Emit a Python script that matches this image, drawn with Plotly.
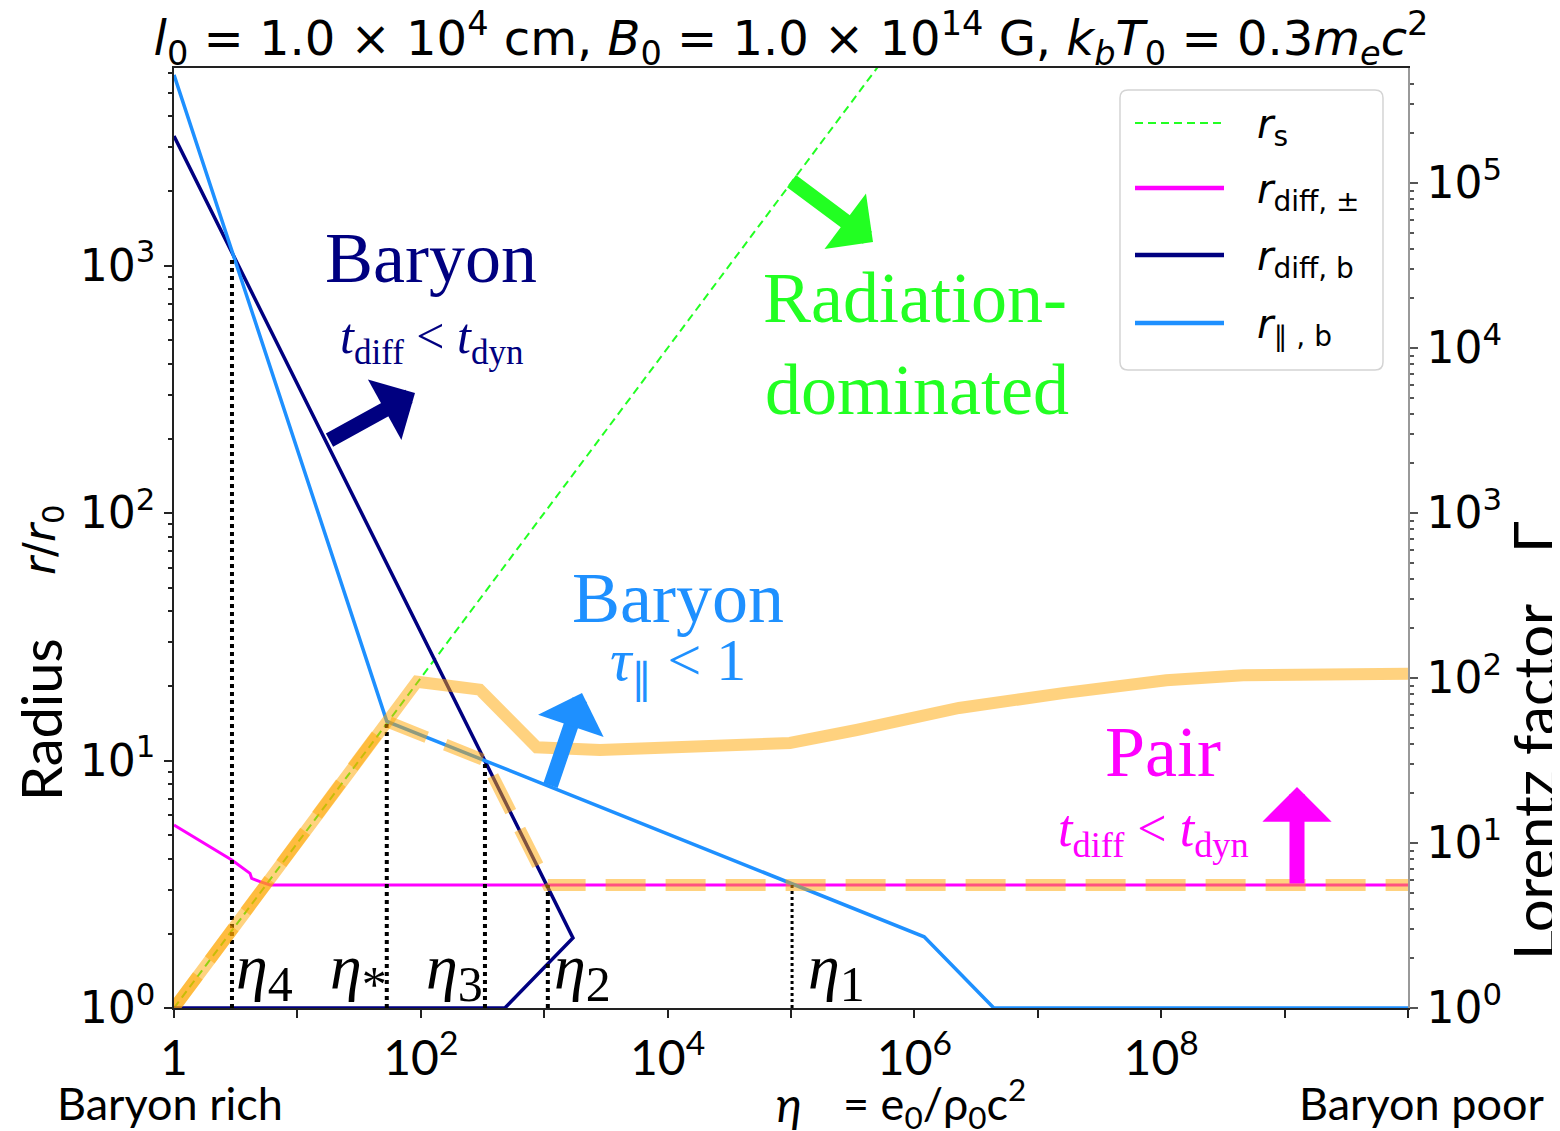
import math
import plotly.graph_objects as go

# ---------------- data ----------------
eta_rs = [1, 1e2, 1e4, 1e6]
r_s = [1, 21.5, 464, 1.0e4]

eta_diff_pm = [1, 2.94, 4.13, 4.26, 4.98, 6.0, 1e10]
r_diff_pm = [5.49, 3.96, 3.50, 3.34, 3.24, 3.14, 3.14]

eta_diff_b = [1, 480, 1710, 1]
r_diff_b = [1, 1, 1.92, 3335]

eta_par_b = [1, 53, 1.2e6, 4.4e6, 1e10]
r_par_b = [5890, 14.4, 1.94, 1, 1]

eta_ph = [1, 53, 331, 1070, 1e10]
r_ph = [1, 14.4, 10, 3.14, 3.14]

eta_gamma = [1, 93, 300, 870, 2830, 1.94e4, 9.8e4, 3.4e5, 2.3e6, 1.6e7, 1.1e8, 4.6e8, 1e10]
gamma = [1, 95, 85, 38, 36.6, 38.7, 40.4, 48.4, 65.8, 81, 97, 104, 106]

eta_marks = [2.95, 53, 331, 1070, 1.02e5]
r_mark_tops = [1082, 14.4, 10, 3.14, 3.14]
mark_names = ["4", "*", "3", "2", "1"]

x_tickvals = [10 ** k for k in range(11)]
x_ticktext = ["1", "", "10<sup>2</sup>", "", "10<sup>4</sup>", "", "10<sup>6</sup>", "",
              "10<sup>8</sup>", "", ""]
y_tickvals = [1, 10, 100, 1000]
y_ticktext = ["10<sup>0</sup>", "10<sup>1</sup>", "10<sup>2</sup>", "10<sup>3</sup>"]
y2_tickvals = [1, 10, 100, 1000, 1e4, 1e5]
y2_ticktext = ["10<sup>0</sup>", "10<sup>1</sup>", "10<sup>2</sup>", "10<sup>3</sup>",
               "10<sup>4</sup>", "10<sup>5</sup>"]

# ---------------- styling ----------------
GREEN = "#22ff22"
MAGENTA = "#ff00ff"
NAVY = "#000080"
BLUE = "#1e90ff"
ORANGE = "rgba(255,165,0,0.5)"

OFF = 8  # page body margin of the html page
SW, SH = 1560, 1131  # screen size
W, H = SW - OFF, SH - OFF
PL, PT, PR, PB = 174, 68, 1408, 1008  # plot area in screen pixels
L, T = PL - OFF, PT - OFF
R, B = SW - PR, SH - PB
PW, PH = PR - PL, PB - PT


def px(x):
    return (x - PL) / PW


def py(y):
    return (PB - y) / PH


fig = go.Figure()

fig.add_trace(go.Scatter(x=eta_rs, y=r_s, mode="lines",
                         line=dict(color=GREEN, width=2, dash="8px,5px"), showlegend=False))
fig.add_trace(go.Scatter(x=eta_diff_pm, y=r_diff_pm, mode="lines",
                         line=dict(color=MAGENTA, width=3), showlegend=False))
fig.add_trace(go.Scatter(x=eta_diff_b, y=r_diff_b, mode="lines",
                         line=dict(color=NAVY, width=3.5), showlegend=False))
fig.add_trace(go.Scatter(x=eta_par_b, y=r_par_b, mode="lines",
                         line=dict(color=BLUE, width=3.5), showlegend=False))

for i, (e, top) in enumerate(zip(eta_marks, r_mark_tops)):
    fig.add_trace(go.Scatter(x=[e, e], y=[1, top], mode="lines",
                             line=dict(color="black", width=4 if i < 4 else 3, dash="dot"),
                             showlegend=False))

fig.add_trace(go.Scatter(x=eta_ph, y=r_ph, mode="lines",
                         line=dict(color=ORANGE, width=12, dash="40px,20px"), showlegend=False))
fig.add_trace(go.Scatter(x=eta_gamma, y=gamma, mode="lines", yaxis="y2",
                         line=dict(color=ORANGE, width=12), showlegend=False))

annotations = []

# eta labels
mark_anchor = [("left", 2), ("right", 4), ("right", 2), ("left", 4), ("left", 14)]
for e, name, (anc, sh) in zip(eta_marks, mark_names, mark_anchor):
    annotations.append(dict(
        x=math.log10(e), y=0, xref="x", yref="y",
        text="<i>η</i><sub><span style='font-size:50px'>%s</span></sub>" % name,
        showarrow=False, xanchor=anc, yanchor="bottom",
        xshift=sh if anc == "left" else sh - 2, yshift=-6,
        font=dict(family="Liberation Serif", size=64, color="black")))

SERIF = "Liberation Serif"


def txt(x, y, text, color, size, family=SERIF, **kw):
    d = dict(x=px(x), y=py(y), xref="paper", yref="paper", text=text, showarrow=False,
             xanchor="center", yanchor="middle", font=dict(family=family, size=size, color=color))
    d.update(kw)
    annotations.append(d)


tdiff = "<i>t</i><sub>diff</sub> &lt; <i>t</i><sub>dyn</sub>"
txt(431, 258, "Baryon", NAVY, 72)
txt(431, 340, tdiff, NAVY, 50)
txt(915, 298, "Radiation-", GREEN, 72)
txt(917, 390, "dominated", GREEN, 72)
txt(678, 598, "Baryon", BLUE, 72)
txt(678, 664, "<i>τ</i><sub>∥</sub> &lt; 1", BLUE, 60)
txt(1163, 752, "Pair", MAGENTA, 72)
txt(1153, 832, tdiff, MAGENTA, 52)


def arrow(tipx, tipy, tailx, taily, color):
    annotations.append(dict(
        x=px(tipx), y=py(tipy), xref="paper", yref="paper",
        ax=tailx - tipx, ay=taily - tipy, axref="pixel", ayref="pixel",
        text="", showarrow=True, arrowhead=1, arrowwidth=15, arrowsize=0.77,
        arrowcolor=color, standoff=0))


arrow(415, 393, 328, 441, NAVY)
arrow(873, 242, 790, 180, GREEN)
arrow(582, 693, 550, 787, BLUE)
arrow(1297, 787, 1297, 885, MAGENTA)

# axis labels / outer texts
SANS = "Lato"
txt(40, 720, "Radius", "black", 56, family=SANS, textangle=-90)
txt(42, 540, "<i>r</i>/<i>r</i><sub>0</sub>", "black", 44, family="DejaVu Sans", textangle=-90)
txt(1533, 782, "Lorentz factor", "black", 58, family=SANS, textangle=-90)
txt(1533, 537, "Γ", "black", 58, family=SANS, textangle=-90)
txt(170, 1103, "Baryon rich", "black", 45, family=SANS)
txt(789, 1103, "<i>η</i>", "black", 48, family=SANS)
txt(934, 1103, "= e<sub>0</sub>/ρ<sub>0</sub>c<sup>2</sup>", "black", 45, family=SANS)
txt(1422, 1103, "Baryon poor", "black", 45, family=SANS)

# custom legend
shapes = []
bx0, bx1, by0, by1 = 1120, 1383, 90, 370
rr = 8


def rpath(x0, y0, x1, y1, r):
    pts = [
        ("M", px(x0 + r), py(y0)), ("L", px(x1 - r), py(y0)),
        ("Q", px(x1), py(y0), px(x1), py(y0 + r)), ("L", px(x1), py(y1 - r)),
        ("Q", px(x1), py(y1), px(x1 - r), py(y1)), ("L", px(x0 + r), py(y1)),
        ("Q", px(x0), py(y1), px(x0), py(y1 - r)), ("L", px(x0), py(y0 + r)),
        ("Q", px(x0), py(y0), px(x0 + r), py(y0)),
    ]
    out = []
    for p in pts:
        cmd = p[0]
        coords = p[1:]
        pairs = ["%.5f,%.5f" % (coords[i], coords[i + 1]) for i in range(0, len(coords), 2)]
        out.append(cmd + " ".join(pairs))
    return " ".join(out) + " Z"


shapes.append(dict(type="path", xref="paper", yref="paper", path=rpath(bx0, by0, bx1, by1, rr),
                   line=dict(color="#d4d4d4", width=1.5), fillcolor="rgba(255,255,255,0.85)",
                   layer="above"))

leg_items = [
    (GREEN, 2, "8px,5px", "<i>r</i><sub>s</sub>"),
    (MAGENTA, 4.5, "solid", "<i>r</i><sub>diff, ±</sub>"),
    (NAVY, 4.5, "solid", "<i>r</i><sub>diff, b</sub>"),
    (BLUE, 4.5, "solid", "<i>r</i><sub>∥ , b</sub>"),
]
leg_y = [123, 188, 255, 323]
for (c, w, d, label), yy in zip(leg_items, leg_y):
    shapes.append(dict(type="line", xref="paper", yref="paper", x0=px(1135), x1=px(1224),
                       y0=py(yy), y1=py(yy), line=dict(color=c, width=w, dash=d), layer="above"))
    annotations.append(dict(x=px(1255), y=py(yy + 4), xref="paper", yref="paper", text=label,
                            showarrow=False, xanchor="left", yanchor="middle",
                            font=dict(family="DejaVu Sans", size=40, color="black")))

title_text = ("<i>l</i><sub>0</sub> = 1.0 × 10<sup>4</sup> cm, <i>B</i><sub>0</sub> = 1.0 × 10<sup>14</sup> G, "
              "<i>k</i><sub><i>b</i></sub><i>T</i><sub>0</sub> = 0.3<i>m</i><sub><i>e</i></sub><i>c</i><sup>2</sup>")

axis_common = dict(showgrid=False, zeroline=False, showline=True, linecolor="#222", linewidth=1.5,
                   ticks="outside", ticklen=8, tickwidth=1.5, tickcolor="#222", automargin=False)
axis_right = dict(axis_common, linecolor="#999", tickcolor="#555")

fig.update_layout(
    width=W, height=H, autosize=False,
    margin=dict(l=L, r=R, t=T, b=B, pad=0, autoexpand=False),
    paper_bgcolor="white", plot_bgcolor="white",
    showlegend=False,
    title=dict(text=title_text, x=0.5, xref="paper", xanchor="center",
               y=1 - (38 - OFF) / H, yref="container", yanchor="middle", automargin=False,
               font=dict(family="DejaVu Sans", size=48, color="black")),
    xaxis=dict(type="log", range=[0, 10], tickmode="array", tickvals=x_tickvals, ticktext=x_ticktext,
               mirror=True, tickfont=dict(family=SANS, size=48, color="black"), **axis_common),
    yaxis=dict(type="log", range=[0, PH / 247.5], tickmode="array", tickvals=y_tickvals,
               ticktext=y_ticktext, tickfont=dict(family="DejaVu Sans", size=44, color="black"),
               minor=dict(ticks="outside", ticklen=4, tickcolor="#222",
                          tickvals=[k * 10 ** d for d in range(4) for k in range(2, 10)]),
               **axis_common),
    yaxis2=dict(type="log", range=[0, PH / 165.0], overlaying="y", side="right", tickmode="array",
                tickvals=y2_tickvals, ticktext=y2_ticktext,
                tickfont=dict(family="DejaVu Sans", size=44, color="black"),
                minor=dict(ticks="outside", ticklen=4, tickcolor="#555",
                           tickvals=[k * 10 ** d for d in range(6) for k in range(2, 10)]),
                **axis_right),
    annotations=annotations,
    shapes=shapes,
)

fig.write_html("out.html")
